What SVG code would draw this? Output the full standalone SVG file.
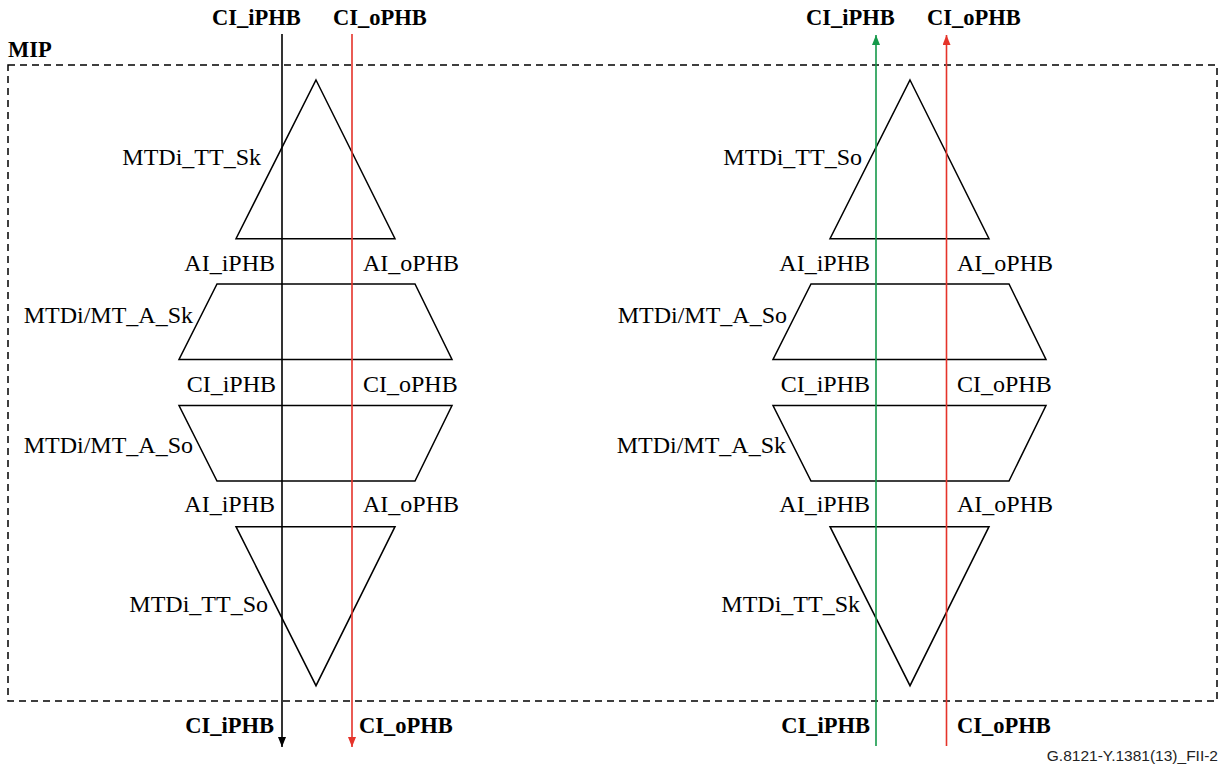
<svg xmlns="http://www.w3.org/2000/svg" width="1222" height="764" viewBox="0 0 1222 764">
<style>
.shape{fill:none;stroke:#000;stroke-width:1.5;stroke-linejoin:miter}
.lbl{font-family:"Liberation Serif","Times New Roman",serif;font-size:24px;fill:#000}
.blbl{font-family:"Liberation Serif","Times New Roman",serif;font-size:22.5px;font-weight:bold;fill:#000}
.end{text-anchor:end}
.foot{font-family:"Liberation Sans",Arial,sans-serif;font-size:15.5px;fill:#222;text-anchor:end}
.conn{fill:none;stroke-width:1.6}
</style>
<defs>
<marker id="arrK" viewBox="0 0 10 8" refX="10" refY="4" markerWidth="10" markerHeight="8" markerUnits="userSpaceOnUse" orient="auto"><path d="M0,0 L10,4 L0,8 z" fill="#000"/></marker>
<marker id="arrR" viewBox="0 0 10 8" refX="10" refY="4" markerWidth="10" markerHeight="8" markerUnits="userSpaceOnUse" orient="auto"><path d="M0,0 L10,4 L0,8 z" fill="#e5332a"/></marker>
<marker id="arrG" viewBox="0 0 10 8" refX="10" refY="4" markerWidth="10" markerHeight="8" markerUnits="userSpaceOnUse" orient="auto"><path d="M0,0 L10,4 L0,8 z" fill="#15994a"/></marker>
</defs>
<rect width="1222" height="764" fill="#fff"/>

<g id="mip">
<rect x="8" y="65" width="1209" height="636" fill="none" stroke="#000" stroke-width="1.5" stroke-dasharray="7 5"/>
<text class="blbl" x="8" y="57">MIP</text>
</g>

<!-- Left column -->
<g id="L_TT_Sk">
<polygon class="shape" points="316,80 395,238.7 236,238.7"/>
<text class="lbl end" x="261" y="165">MTDi_TT_Sk</text>
</g>
<g id="L_A_Sk">
<polygon class="shape" points="217,284 415,284 452,359.5 179,359.5"/>
<text class="lbl end" x="193" y="323">MTDi/MT_A_Sk</text>
</g>
<g id="L_A_So">
<polygon class="shape" points="179,405.5 452,405.5 415,481 217,481"/>
<text class="lbl end" x="193" y="453">MTDi/MT_A_So</text>
</g>
<g id="L_TT_So">
<polygon class="shape" points="236,526.7 395,526.7 316,685.7"/>
<text class="lbl end" x="268" y="612">MTDi_TT_So</text>
</g>
<g id="L_points">
<text class="blbl" x="212" y="25">CI_iPHB</text>
<text class="blbl" x="333" y="25">CI_oPHB</text>
<text class="lbl end" x="275" y="271">AI_iPHB</text>
<text class="lbl" x="363" y="271">AI_oPHB</text>
<text class="lbl end" x="276" y="392">CI_iPHB</text>
<text class="lbl" x="363" y="392">CI_oPHB</text>
<text class="lbl end" x="275" y="512">AI_iPHB</text>
<text class="lbl" x="363" y="512">AI_oPHB</text>
<text class="blbl end" x="274" y="733">CI_iPHB</text>
<text class="blbl" x="359" y="733">CI_oPHB</text>
</g>

<!-- Right column -->
<g id="R_TT_So">
<polygon class="shape" points="910,80 989,238.7 830,238.7"/>
<text class="lbl end" x="862" y="165">MTDi_TT_So</text>
</g>
<g id="R_A_So">
<polygon class="shape" points="811,284 1009,284 1046,359.5 773,359.5"/>
<text class="lbl end" x="787" y="323">MTDi/MT_A_So</text>
</g>
<g id="R_A_Sk">
<polygon class="shape" points="773,405.5 1046,405.5 1009,481 811,481"/>
<text class="lbl end" x="786" y="453">MTDi/MT_A_Sk</text>
</g>
<g id="R_TT_Sk">
<polygon class="shape" points="830,526.7 989,526.7 910,685.7"/>
<text class="lbl end" x="860" y="612">MTDi_TT_Sk</text>
</g>
<g id="R_points">
<text class="blbl" x="806" y="25">CI_iPHB</text>
<text class="blbl" x="927" y="25">CI_oPHB</text>
<text class="lbl end" x="870" y="271">AI_iPHB</text>
<text class="lbl" x="957" y="271">AI_oPHB</text>
<text class="lbl end" x="870" y="392">CI_iPHB</text>
<text class="lbl" x="957" y="392">CI_oPHB</text>
<text class="lbl end" x="870" y="512">AI_iPHB</text>
<text class="lbl" x="957" y="512">AI_oPHB</text>
<text class="blbl end" x="870" y="733">CI_iPHB</text>
<text class="blbl" x="957" y="733">CI_oPHB</text>
</g>

<g id="connectors">
<line class="conn" x1="282" y1="34" x2="282" y2="747" stroke="#000" marker-end="url(#arrK)"/>
<line class="conn" x1="352" y1="34" x2="352" y2="747" stroke="#e5332a" marker-end="url(#arrR)"/>
<line class="conn" x1="876" y1="746" x2="876" y2="35" stroke="#15994a" marker-end="url(#arrG)"/>
<line class="conn" x1="946.5" y1="746" x2="946.5" y2="35" stroke="#e5332a" marker-end="url(#arrR)"/>
</g>

<text class="foot" x="1218" y="761">G.8121-Y.1381(13)_FII-2</text>
</svg>
